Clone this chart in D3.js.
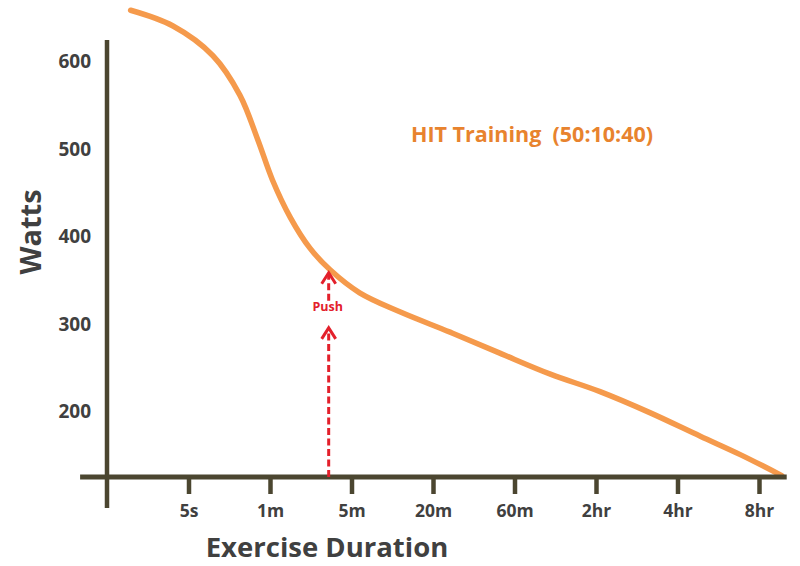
<!DOCTYPE html>
<html>
<head>
<meta charset="utf-8">
<script src="https://cdn.jsdelivr.net/npm/d3@7"></script>
<style>
  html, body { margin: 0; padding: 0; background: #ffffff; }
  svg { display: block; }
  text { font-family: "Open Sans", "Noto Sans", sans-serif; font-weight: bold; }
</style>
</head>
<body>
<svg id="chart" width="800" height="566"></svg>
<script>
// ---- data ----
const xLabels = ["5s", "1m", "5m", "20m", "60m", "2hr", "4hr", "8hr"];
const xTickPos = [1, 2, 3, 4, 5, 6, 7, 8];
const yTicks = [200, 300, 400, 500, 600];
const curveIdx   = [0.29, 0.81, 1.30, 1.63, 1.85, 2.03, 2.25, 2.49, 2.74, 3.10, 3.60, 4.21, 4.82, 5.44, 6.05, 6.66, 7.28, 7.77, 8.28];
const curveWatts = [659, 641, 607, 562, 511, 465, 422, 387, 362, 336, 314, 291, 267, 243, 223, 199, 172, 151, 127];
const seriesName = "HIT Training  (50:10:40)";
const pushIdx = 2.72;
const pushLower = [125.4, 297];
const pushUpper = [327, 360];
const pushLabel = "Push";
const xTitle = "Exercise Duration";
const yTitle = "Watts";

// ---- scales ----
const svg = d3.select("#chart");
const x = d3.scaleLinear().domain([0, 8]).range([107, 759]);
const y = d3.scaleLinear().domain([125.4, 625]).range([477, 40]);
const axisColor = "#4b4630";
const textColor = "#404040";
const orange = "#f59a4c";
const red = "#e3202b";

// curve
const line = d3.line()
  .x((d, i) => x(curveIdx[i]))
  .y(d => y(d))
  .curve(d3.curveCatmullRom.alpha(0.5));
svg.append("path")
  .datum(curveWatts)
  .attr("d", line)
  .attr("fill", "none")
  .attr("stroke", orange)
  .attr("stroke-width", 5.5)
  .attr("stroke-linecap", "round");

// y axis line
svg.append("line")
  .attr("x1", x(0)).attr("x2", x(0))
  .attr("y1", y(625)).attr("y2", y(125.4) + 31)
  .attr("stroke", axisColor).attr("stroke-width", 4.5);

// x axis line
svg.append("line")
  .attr("x1", x(-0.33)).attr("x2", x(8.34))
  .attr("y1", y(125.4)).attr("y2", y(125.4))
  .attr("stroke", axisColor).attr("stroke-width", 5);

// x axis ticks and labels
const xAxis = d3.axisBottom(x)
  .tickValues(xTickPos)
  .tickFormat((d, i) => xLabels[i])
  .tickSize(17)
  .tickPadding(11);
const gx = svg.append("g")
  .attr("transform", `translate(0,${y(125.4)})`)
  .call(xAxis);
gx.select(".domain").remove();
gx.selectAll(".tick line").attr("stroke", axisColor).attr("stroke-width", 4.5);
gx.selectAll(".tick text")
  .attr("fill", textColor)
  .style("font-size", "17.5px")
  .style("font-family", "'Open Sans', sans-serif")
  .style("font-weight", "bold");

// y axis labels
const yAxis = d3.axisLeft(y)
  .tickValues(yTicks)
  .tickSize(0)
  .tickPadding(16);
const gy = svg.append("g")
  .attr("transform", `translate(${x(0)},0)`)
  .call(yAxis);
gy.select(".domain").remove();
gy.selectAll(".tick text")
  .attr("fill", textColor)
  .style("font-size", "19px")
  .style("font-family", "'Open Sans', sans-serif")
  .style("font-weight", "bold");

// axis titles
svg.append("text")
  .attr("x", 327).attr("y", 557)
  .attr("text-anchor", "middle")
  .attr("fill", textColor)
  .style("font-size", "27.5px")
  .text(xTitle);
svg.append("text")
  .attr("transform", "translate(41,232) rotate(-90)")
  .attr("text-anchor", "middle")
  .attr("fill", textColor)
  .style("font-size", "29px")
  .text(yTitle);

// series label
svg.append("text")
  .attr("x", 411).attr("y", 142)
  .attr("fill", "#e8832e")
  .style("font-size", "21.5px")
  .style("white-space", "pre")
  .attr("xml:space", "preserve")
  .text(seriesName);

// push arrows
function dashedArrow(v0, v1) {
  svg.append("line")
    .attr("x1", x(pushIdx)).attr("x2", x(pushIdx))
    .attr("y1", y(v0)).attr("y2", y(v1) + 2)
    .attr("stroke", red).attr("stroke-width", 3)
    .attr("stroke-dasharray", "7,3.5");
  const tx = x(pushIdx), ty = y(v1);
  svg.append("path")
    .attr("d", `M${tx - 7},${ty + 12} L${tx},${ty + 1} L${tx + 7},${ty + 12}`)
    .attr("fill", "none")
    .attr("stroke", red).attr("stroke-width", 3)
    .attr("stroke-linejoin", "miter");
}
dashedArrow(pushLower[0], pushLower[1]);
dashedArrow(pushUpper[0], pushUpper[1]);
svg.append("text")
  .attr("x", x(pushIdx) - 1).attr("y", y(314) - 1)
  .attr("text-anchor", "middle")
  .attr("fill", red)
  .style("font-size", "12.5px")
  .text(pushLabel);
</script>
</body>
</html>
